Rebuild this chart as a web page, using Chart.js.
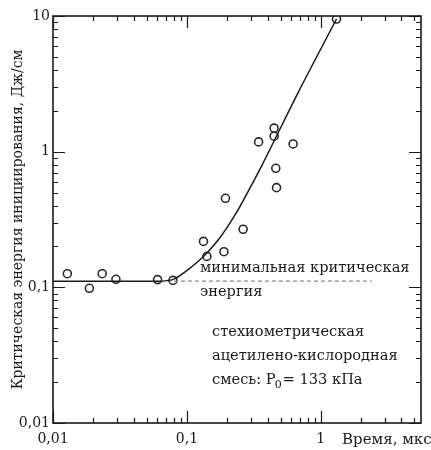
<!DOCTYPE html>
<html>
<head>
<meta charset="utf-8">
<script src="https://cdn.jsdelivr.net/npm/chart.js@4.4.1/dist/chart.umd.min.js"></script>
<style>
  html, body { margin: 0; padding: 0; background: #fff; }
  #wrap { width: 431px; height: 450px; }
</style>
</head>
<body>
<div id="wrap"><canvas id="chart" width="431" height="450"></canvas></div>
<script>
// measured points (time, us / energy, J/cm)
const pointsX = [0.0128, 0.0187, 0.0233, 0.0295, 0.0604, 0.0787, 0.133, 0.141, 0.189, 0.194, 0.263, 0.343, 0.448, 0.448, 0.461, 0.467, 0.621, 1.31];
const pointsY = [0.126, 0.0984, 0.126, 0.1146, 0.114, 0.1125, 0.218, 0.169, 0.183, 0.453, 0.268, 1.18, 1.49, 1.30, 0.754, 0.543, 1.14, 9.5];

// fitted curve
const fitX = [0.01, 0.06, 0.08, 0.097, 0.121, 0.144, 0.171, 0.206, 0.244, 0.29, 0.36, 0.68, 1.31];
const fitY = [0.111, 0.111, 0.115, 0.130, 0.155, 0.183, 0.223, 0.29, 0.38, 0.52, 0.78, 2.75, 9.5];

// minimal critical energy level (dashed)
const minX = [0.08, 2.4];
const minY = [0.111, 0.111];

const xTicks = [0.01, 0.1, 1];
const xTickLabels = ['0,01', '0,1', '1'];
const yTicks = [0.01, 0.1, 1, 10];
const yTickLabels = ['0,01', '0,1', '1', '10'];

const yTitle = 'Критическая энергия инициирования, Дж/см';
const xTitle = 'Время, мкс';

const FONT = '"DejaVu Serif", serif';
const INK = '#1a1a1a';

function toXY(xs, ys) {
  return xs.map((x, i) => ({ x: x, y: ys[i] }));
}

// inward ticks on all four sides + texts
const framePlugin = {
  id: 'frame',
  afterDraw(chart) {
    const ctx = chart.ctx;
    const a = chart.chartArea;
    const sx = chart.scales.x, sy = chart.scales.y;
    ctx.save();
    ctx.strokeStyle = INK;
    ctx.lineWidth = 1.2;

    function logValues(min, max) {
      const out = [];
      for (let e = -3; e <= 2; e++) {
        for (let m = 1; m <= 9; m++) {
          const v = m * Math.pow(10, e);
          if (v >= min * 0.999 && v <= max * 1.001) out.push({ v: v, major: m === 1 });
        }
      }
      return out;
    }

    logValues(sx.min, sx.max).forEach(t => {
      const px = Math.round(sx.getPixelForValue(t.v)) + 0.5;
      const len = t.major ? 12 : 5;
      ctx.beginPath();
      ctx.moveTo(px, a.bottom); ctx.lineTo(px, a.bottom - len);
      ctx.moveTo(px, a.top); ctx.lineTo(px, a.top + len);
      ctx.stroke();
    });
    logValues(sy.min, sy.max).forEach(t => {
      const py = Math.round(sy.getPixelForValue(t.v)) + 0.5;
      const len = t.major ? 12 : 5;
      ctx.beginPath();
      ctx.moveTo(a.left, py); ctx.lineTo(a.left + len, py);
      ctx.moveTo(a.right, py); ctx.lineTo(a.right - len, py);
      ctx.stroke();
    });

    // frame
    ctx.lineWidth = 1.6;
    ctx.strokeRect(a.left, a.top, a.right - a.left, a.bottom - a.top);

    ctx.fillStyle = INK;
    ctx.textBaseline = 'middle';
    ctx.textAlign = 'left';
    ctx.font = '15px ' + FONT;
    ctx.fillText(xTitle, a.right - 79, a.bottom + 17);

    ctx.font = '14.6px ' + FONT;
    ctx.fillText('минимальная критическая', 200, 268);
    ctx.fillText('энергия', 200, 292);
    ctx.fillText('стехиометрическая', 212, 332);
    ctx.fillText('ацетилено-кислородная', 212, 356);

    let x = 212;
    const line = 'смесь: P';
    ctx.fillText(line, x, 380);
    x += ctx.measureText(line).width;
    ctx.font = '11px ' + FONT;
    ctx.fillText('0', x - 1, 385);
    x += ctx.measureText('0').width;
    ctx.font = '14.6px ' + FONT;
    ctx.fillText('= 133 кПа', x, 380);
    ctx.restore();
  }
};

new Chart(document.getElementById('chart'), {
  type: 'scatter',
  data: {
    datasets: [
      {
        label: 'fit',
        data: toXY(fitX, fitY),
        showLine: true,
        borderColor: INK,
        borderWidth: 1.5,
        pointRadius: 0,
        cubicInterpolationMode: 'monotone'
      },
      {
        label: 'min',
        data: toXY(minX, minY),
        showLine: true,
        borderColor: '#888',
        borderWidth: 1.2,
        borderDash: [4, 3],
        pointRadius: 0
      },
      {
        label: 'points',
        data: toXY(pointsX, pointsY),
        showLine: false,
        pointRadius: 4,
        pointBorderWidth: 1.6,
        pointBorderColor: '#2a2a2a',
        pointBackgroundColor: 'rgba(255,255,255,0)'
      }
    ]
  },
  options: {
    responsive: false,
    animation: false,
    layout: { padding: { top: 16, right: 10, left: 0, bottom: 0 } },
    plugins: {
      legend: { display: false },
      tooltip: { enabled: false }
    },
    scales: {
      x: {
        type: 'logarithmic',
        min: 0.01,
        max: 5.6,
        grid: { display: false, drawTicks: false },
        border: { display: false },
        afterBuildTicks: s => { s.ticks = xTicks.map(v => ({ value: v })); },
        afterFit: s => { s.height = 27; },
        ticks: {
          padding: 8,
          color: INK,
          font: { family: FONT, size: 14 },
          maxRotation: 0,
          autoSkip: false,
          callback: v => xTickLabels[xTicks.indexOf(v)]
        }
      },
      y: {
        type: 'logarithmic',
        min: 0.01,
        max: 10,
        grid: { display: false, drawTicks: false },
        border: { display: false },
        afterBuildTicks: s => { s.ticks = yTicks.map(v => ({ value: v })); },
        afterFit: s => { s.width = 53; },
        title: {
          display: true,
          text: yTitle,
          color: INK,
          font: { family: FONT, size: 14 },
          padding: { top: 10, bottom: 0 }
        },
        ticks: {
          padding: 3,
          color: INK,
          font: { family: FONT, size: 14 },
          autoSkip: false,
          callback: v => yTickLabels[yTicks.indexOf(v)]
        }
      }
    }
  },
  plugins: [framePlugin]
});
</script>
</body>
</html>
